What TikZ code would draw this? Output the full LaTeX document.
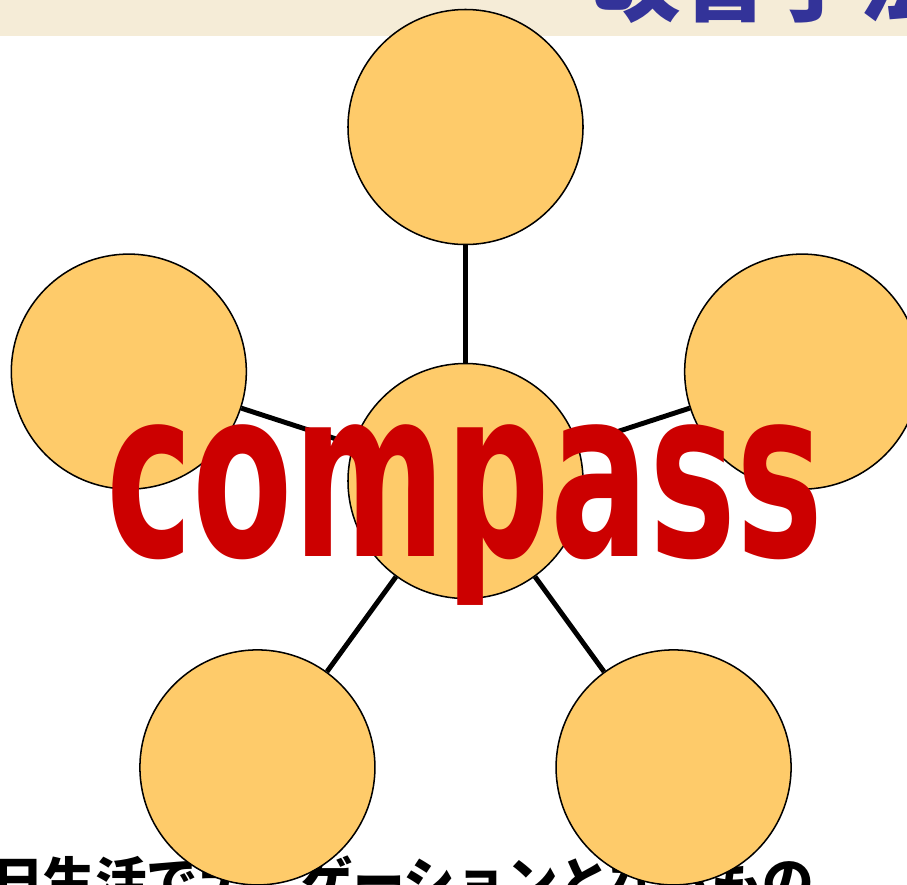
\documentclass[tikz,border=0pt]{standalone}
\usepackage{fontspec}
\newfontfamily\jpfont{Noto Sans CJK JP}
\newfontfamily\compassfont{DejaVu Sans}
\definecolor{petalfill}{RGB}{254,203,106}
\definecolor{bandbeige}{RGB}{245,236,215}
\definecolor{titleblue}{RGB}{51,51,153}
\definecolor{compassred}{RGB}{204,0,0}
\usetikzlibrary{positioning, calc}

\begin{document}
\begin{tikzpicture}[
        x=0.03cm, y=0.03cm,
        petal/.style={circle, draw=black, line width=1.3pt, fill=petalfill, minimum size=7.05cm, inner sep=0pt},
        spoke/.style={line width=4.2pt, black}
    ]
        % Page frame
        \useasboundingbox (0,0) rectangle (907,-884);
        \clip (0,0) rectangle (907,-884);

        % Title band (cut off at the top)
        \fill[bandbeige] (0,0) rectangle (907,-36);
        \node[anchor=base west, inner sep=0pt, font=\jpfont\bfseries\fontsize{77}{80}\selectfont, text=titleblue] (title) at (590,-14) {改善手法};

        % Text line cut off at the bottom
        \node[anchor=base west, inner sep=0pt, font=\jpfont\bfseries\fontsize{44}{48}\selectfont] (caption) at (-8,-900) {日生活でナビゲーションとなるもの};

        % Hub and petals
        \node[petal] (hub) at (465.5,-481) {};
        \node[petal] (north) at ([shift={(90:354)}]hub) {};
        \node[petal] (west) at ([shift={(162:354)}]hub) {};
        \node[petal] (east) at ([shift={(18:354)}]hub) {};
        \node[petal] (southwest) at ([shift={(234:354)}]hub) {};
        \node[petal] (southeast) at ([shift={(306:354)}]hub) {};

        \draw[spoke] (hub) -- (north);
        \draw[spoke] (hub) -- (west);
        \draw[spoke] (hub) -- (east);
        \draw[spoke] (hub) -- (southwest);
        \draw[spoke] (hub) -- (southeast);

        % Big word on top
        \node[anchor=base west, inner sep=0pt, text=compassred] (word) at (106,-556)
            {\resizebox{21.5cm}{3.95cm}{\compassfont\bfseries compass}};
    \end{tikzpicture}
\end{document}
